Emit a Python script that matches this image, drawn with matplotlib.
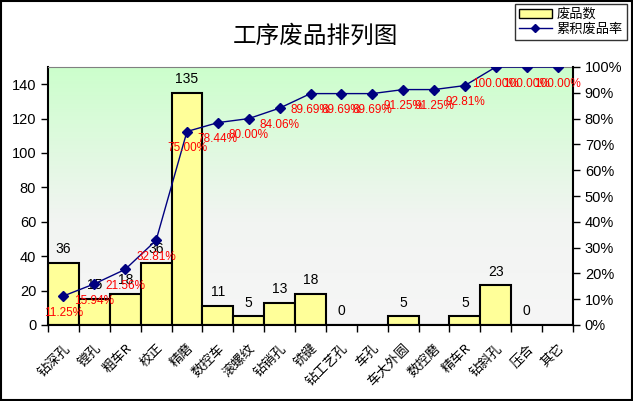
import numpy as np
import matplotlib
matplotlib.use("Agg")
import matplotlib.pyplot as plt
from matplotlib.colors import LinearSegmentedColormap
from matplotlib.lines import Line2D
from matplotlib.patches import Patch, Rectangle

plt.rcParams['font.family'] = ['Noto Sans CJK SC', 'DejaVu Sans']

# - - - - 数据 - - - -
categories = ["钻深孔", "镗孔", "粗车R", "校正", "精磨", "数控车", "滚螺纹", "钻销孔",
              "铣键", "钻工艺孔", "车孔", "车大外圆", "数控磨", "精车R", "钻斜孔", "压合", "其它"]
counts = [36, 15, 18, 36, 135, 11, 5, 13, 18, 0, None, 5, None, 5, 23, 0, None]
cum_pct = [11.25, 15.94, 21.56, 32.81, 75.00, 78.44, 80.00, 84.06, 89.69, 89.69,
           89.69, 91.25, 91.25, 92.81, 100.00, 100.00, 100.00]

x = np.arange(len(categories))
heights = [c if c is not None else 0 for c in counts]
num_font = ["Liberation Sans", "DejaVu Sans"]

fig = plt.figure(figsize=(6.33, 4.01), dpi=100)
ax = fig.add_axes([48 / 633, 1 - 325 / 401, 525 / 633, 258 / 401])

# 背景渐变（上绿下白）
cmap = LinearSegmentedColormap.from_list("bg", [(0.0, "#f6f6f6"), (0.4, "#f2f4f2"), (1.0, "#ccffcc")])
grad = np.linspace(0, 1, 256).reshape(-1, 1)
ax.imshow(grad, cmap=cmap, aspect="auto", origin="lower",
          extent=[-0.5, len(categories) - 0.5, 0, 150], zorder=0)

# 柱状图
ax.bar(x, heights, width=1.0, color="#ffff99", edgecolor="black", linewidth=1.5, zorder=2)
for xi, c in zip(x, counts):
    if c is not None:
        ax.annotate(str(c), (xi, c), xytext=(0, 10), textcoords="offset points",
                    ha="center", va="center", fontsize=10, family=num_font, zorder=5)

ax.set_xlim(-0.5, len(categories) - 0.5)
ax.set_ylim(0, 150)
ax.set_yticks(range(0, 141, 20))
ax.set_xticks(x)
ax.set_xticklabels(categories, rotation=45, ha="right", va="top",
                   rotation_mode="anchor", fontsize=9.5)
ax.set_xticks(np.arange(-0.5, len(categories), 1), minor=True)
ax.tick_params(axis="x", which="major", length=0, pad=12)
ax.tick_params(axis="x", which="minor", length=5, width=1)
ax.tick_params(axis="y", length=5, width=1, labelsize=10.5)
for lab in ax.get_yticklabels():
    lab.set_family(num_font)
for s in ["left", "bottom"]:
    ax.spines[s].set_linewidth(1.5)
ax.spines["top"].set_color("#808080")
ax.spines["right"].set_visible(False)

# 累积废品率
ax2 = ax.twinx()
ax2.plot(x, np.array(cum_pct) / 100, color="#000080", marker="D", markersize=5,
         linewidth=1, zorder=4)
for xi, p in zip(x, cum_pct):
    ax2.annotate(f"{p:.2f}%", (xi, p / 100), xytext=(0, -12), textcoords="offset points",
                 ha="center", va="center", color="red", fontsize=8.5,
                 family=num_font, zorder=6)
ax2.set_ylim(0, 1)
ax2.set_yticks(np.arange(0, 1.01, 0.1))
ax2.set_yticklabels([f"{int(round(v * 100))}%" for v in np.arange(0, 1.01, 0.1)],
                    fontsize=10.5, family=num_font)
ax2.tick_params(axis="y", length=5, width=1)
ax2.spines["right"].set_linewidth(1.5)
for s in ["left", "bottom", "top"]:
    ax2.spines[s].set_visible(False)

# 标题
fig.text(315 / 633, 1 - 36 / 401, "工序废品排列图", ha="center", va="center", fontsize=17)

# 图例
handles = [Patch(facecolor="#ffff99", edgecolor="black", linewidth=1),
           Line2D([0], [0], color="#000080", marker="D", markersize=4, linewidth=1)]
fig.legend(handles, ["废品数", "累积废品率"], loc="upper right",
           bbox_to_anchor=(627 / 633, 1 - 4 / 401), fontsize=9.5, frameon=True,
           fancybox=False, edgecolor="black", borderpad=0.3, handlelength=2.5,
           labelspacing=0.15, handletextpad=0.4, borderaxespad=0)

# 外框
fig.patches.append(Rectangle((0.001, 0.002), 0.997, 0.996, transform=fig.transFigure,
                             fill=False, edgecolor="black", linewidth=1.5))

fig.savefig("out.png", dpi=100)
